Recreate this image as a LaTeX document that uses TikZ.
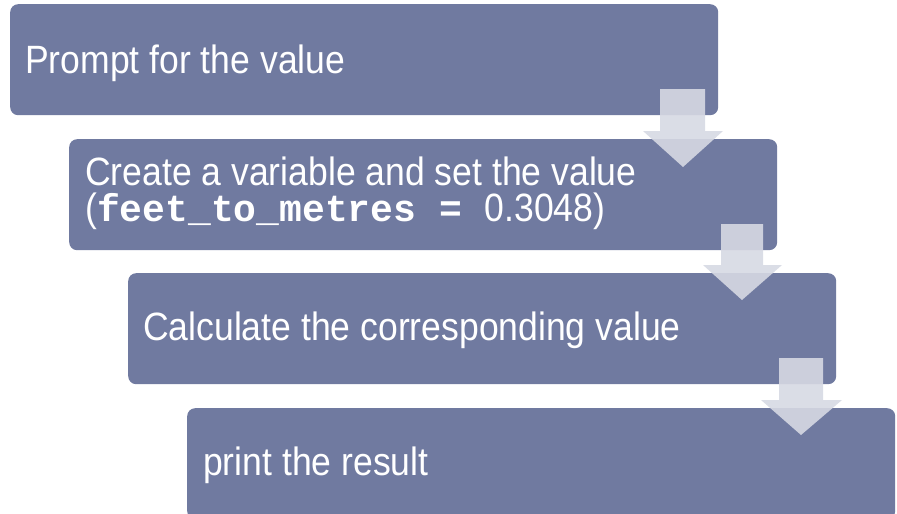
\documentclass[tikz,border=0pt]{standalone}
\usepackage{fontspec}
\setmainfont[FakeStretch=0.9]{Liberation Sans}
\setmonofont{Liberation Mono}
\definecolor{boxblue}{HTML}{707AA0}
\definecolor{arrowgray}{HTML}{D6D9E3}
\begin{document}
\begin{tikzpicture}[x=1pt,y=-1pt,
  stepbox/.style={fill=boxblue, draw=none, rounded corners=8pt, inner sep=0pt,
    minimum width=708pt, minimum height=111pt, anchor=north west},
  lbl/.style={anchor=base west, text=white, inner sep=0pt,
    font=\fontsize{39.5}{36}\selectfont},
  arr/.style={fill=arrowgray, fill opacity=0.9, draw=none}]
\useasboundingbox (0,0) rectangle (897,514);
\clip (0,0) rectangle (897,514);
% boxes
\node[stepbox] (b1) at (10,4) {};
\node[stepbox] (b2) at (69,139) {};
\node[stepbox] (b3) at (128,273) {};
\node[stepbox] (b4) at (187,408) {};
% arrows
\fill[arr] (660,89) -- (705,89) -- (705,131) -- (723,131) -- (683,167) -- (643,131) -- (660,131) -- cycle;
\fill[arr] (721,224) -- (763,224) -- (763,265) -- (782,265) -- (742,300) -- (703,265) -- (721,265) -- cycle;
\fill[arr] (779,358) -- (823,358) -- (823,400) -- (842,400) -- (801,435) -- (761,400) -- (779,400) -- cycle;
% texts
\node[lbl] (t1) at (25,73) {Prompt for the value};
\node[lbl] (t2a) at (85,185) {Create a variable and set the value};
\node[lbl] (t2b) at (85,221) {(\texttt{\fontsize{38}{36}\selectfont\bfseries feet\_to\_metres =\ }0.3048)};
\node[lbl] (t3) at (143,340) {Calculate the corresponding value};
\node[lbl] (t4) at (203,475) {print the result};
\end{tikzpicture}
\end{document}
